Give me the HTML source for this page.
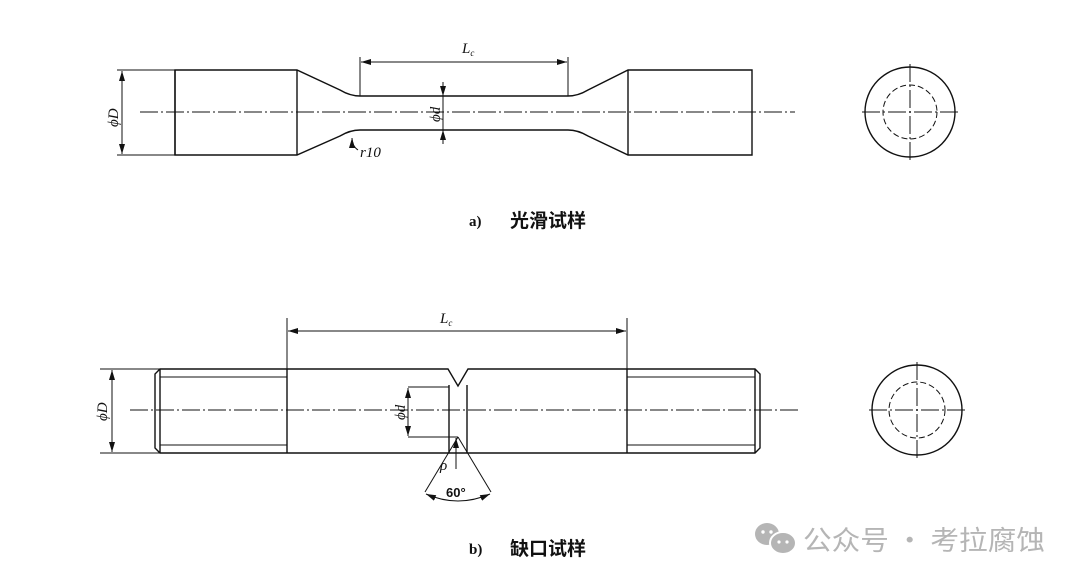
<!DOCTYPE html>
<html><head><meta charset="utf-8"><style>
html,body{margin:0;padding:0;background:#fff;}
svg{display:block;}
</style></head><body>
<svg width="1080" height="582" viewBox="0 0 1080 582" xmlns="http://www.w3.org/2000/svg" font-family="Liberation Serif, serif">
<defs>
<marker id="a" viewBox="0 0 10 6" refX="10" refY="3" markerWidth="10" markerHeight="6" orient="auto-start-reverse" markerUnits="userSpaceOnUse"><path d="M0,0 L10,3 L0,6 z" fill="#111"/></marker>
</defs>
<g stroke="#111" stroke-width="1.4" fill="none">
<!-- TOP -->
<line x1="140" y1="112" x2="795" y2="112" stroke-dasharray="18,3,2,3" stroke-width="1"/>
<path d="M175,70 H297 L340,90 Q350,96 360,96 H568 Q578,96 588,90 L628,70 H752 V155 H628 L588,136 Q578,130 568,130 H360 Q350,130 340,136 L297,155 H175 Z"/>
<line x1="175" y1="70" x2="175" y2="155"/>
<line x1="297" y1="70" x2="297" y2="155"/>
<line x1="628" y1="70" x2="628" y2="155"/>
<line x1="117" y1="70" x2="175" y2="70" stroke-width="1"/>
<line x1="117" y1="155" x2="175" y2="155" stroke-width="1"/>
<line x1="122" y1="71" x2="122" y2="154" stroke-width="1" marker-start="url(#a)" marker-end="url(#a)"/>
<line x1="360" y1="57" x2="360" y2="96" stroke-width="1"/>
<line x1="568" y1="57" x2="568" y2="96" stroke-width="1"/>
<line x1="361" y1="62" x2="567" y2="62" stroke-width="1" marker-start="url(#a)" marker-end="url(#a)"/>
<line x1="443" y1="82" x2="443" y2="96" stroke-width="1" marker-end="url(#a)"/>
<line x1="443" y1="144" x2="443" y2="130" stroke-width="1" marker-end="url(#a)"/>
<line x1="443" y1="96" x2="443" y2="130" stroke-width="1"/>
<path d="M358,150 Q352,146 352,138" stroke-width="1" marker-end="url(#a)"/>
<!-- end view a -->
<circle cx="910" cy="112" r="45"/>
<circle cx="910" cy="112" r="27" stroke-dasharray="6,3" stroke-width="1"/>
<line x1="862" y1="112" x2="958" y2="112" stroke-dasharray="18,3,2,3" stroke-width="1"/>
<line x1="910" y1="64" x2="910" y2="161" stroke-dasharray="18,3,2,3" stroke-width="1"/>

<!-- BOTTOM -->
<line x1="130" y1="410" x2="800" y2="410" stroke-dasharray="18,3,2,3" stroke-width="1"/>
<path d="M160,369 H448 L458,386 L468,369 H755 L760,374 V448 L755,453 H160 L155,448 V374 Z"/>
<line x1="287" y1="369" x2="287" y2="453"/>
<line x1="627" y1="369" x2="627" y2="453"/>
<line x1="449" y1="385" x2="449" y2="453"/>
<line x1="467" y1="385" x2="467" y2="453"/>
<line x1="160" y1="369" x2="160" y2="453"/>
<line x1="755" y1="369" x2="755" y2="453"/>
<line x1="160" y1="377" x2="287" y2="377" stroke-width="1"/>
<line x1="160" y1="445" x2="287" y2="445" stroke-width="1"/>
<line x1="627" y1="377" x2="755" y2="377" stroke-width="1"/>
<line x1="627" y1="445" x2="755" y2="445" stroke-width="1"/>
<line x1="100" y1="369" x2="160" y2="369" stroke-width="1"/>
<line x1="100" y1="453" x2="160" y2="453" stroke-width="1"/>
<line x1="112" y1="370" x2="112" y2="452" stroke-width="1" marker-start="url(#a)" marker-end="url(#a)"/>
<line x1="287" y1="318" x2="287" y2="369" stroke-width="1"/>
<line x1="627" y1="318" x2="627" y2="369" stroke-width="1"/>
<line x1="288" y1="331" x2="626" y2="331" stroke-width="1" marker-start="url(#a)" marker-end="url(#a)"/>
<line x1="408" y1="387" x2="449" y2="387" stroke-width="1"/>
<line x1="408" y1="437" x2="458" y2="437" stroke-width="1"/>
<line x1="408" y1="388" x2="408" y2="436" stroke-width="1" marker-start="url(#a)" marker-end="url(#a)"/>
<line x1="458" y1="437" x2="425" y2="492" stroke-width="1"/>
<line x1="458" y1="437" x2="491" y2="492" stroke-width="1"/>
<path d="M426,494 Q458,508 490,494" stroke-width="1" marker-start="url(#a)" marker-end="url(#a)"/>
<line x1="456" y1="469" x2="456" y2="438" stroke-width="1" marker-end="url(#a)"/>
<!-- end view b -->
<circle cx="917" cy="410" r="45"/>
<circle cx="917" cy="410" r="28" stroke-dasharray="6,3" stroke-width="1"/>
<line x1="869" y1="410" x2="965" y2="410" stroke-dasharray="18,3,2,3" stroke-width="1"/>
<line x1="917" y1="362" x2="917" y2="459" stroke-dasharray="18,3,2,3" stroke-width="1"/>
</g>
<g fill="#111" font-style="italic" font-size="15">
<text x="462" y="53">L<tspan font-size="9" dy="3">c</tspan></text>
<text x="440" y="323">L<tspan font-size="9" dy="3">c</tspan></text>
<text transform="translate(118,127) rotate(-90)">ϕD</text>
<text transform="translate(107,421) rotate(-90)">ϕD</text>
<text transform="translate(440,122) rotate(-90)">ϕd</text>
<text transform="translate(405,420) rotate(-90)">ϕd</text>
<text x="360" y="157">r10</text>
<text x="440" y="470">ρ</text>
<text x="446" y="497" font-style="normal" font-family="Liberation Sans, sans-serif" font-weight="bold" font-size="13">60°</text>
</g>
<g fill="#111" font-weight="bold" font-size="15" font-family="Liberation Serif, 'Noto Serif CJK SC', serif">
<text x="469" y="226">a)</text><text x="510" y="227" font-size="19" font-family="'Noto Sans CJK SC', sans-serif">光滑试样</text>
<text x="469" y="554">b)</text><text x="510" y="555" font-size="19" font-family="'Noto Sans CJK SC', sans-serif">缺口试样</text>
</g>
<!-- watermark -->
<g fill="#b5b5b5">
<ellipse cx="767" cy="534" rx="12" ry="11"/>
<ellipse cx="783" cy="543" rx="13" ry="11" stroke="#fff" stroke-width="2"/>
<circle cx="763" cy="532" r="1.7" fill="#fff"/><circle cx="771" cy="532" r="1.7" fill="#fff"/>
<circle cx="779" cy="542" r="1.6" fill="#fff"/><circle cx="787" cy="542" r="1.6" fill="#fff"/>
<text x="803" y="550" font-size="27" textLength="242" lengthAdjust="spacingAndGlyphs" font-family="'Noto Sans CJK SC', sans-serif">公众号 · 考拉腐蚀</text>
</g>
</svg>
</body></html>
